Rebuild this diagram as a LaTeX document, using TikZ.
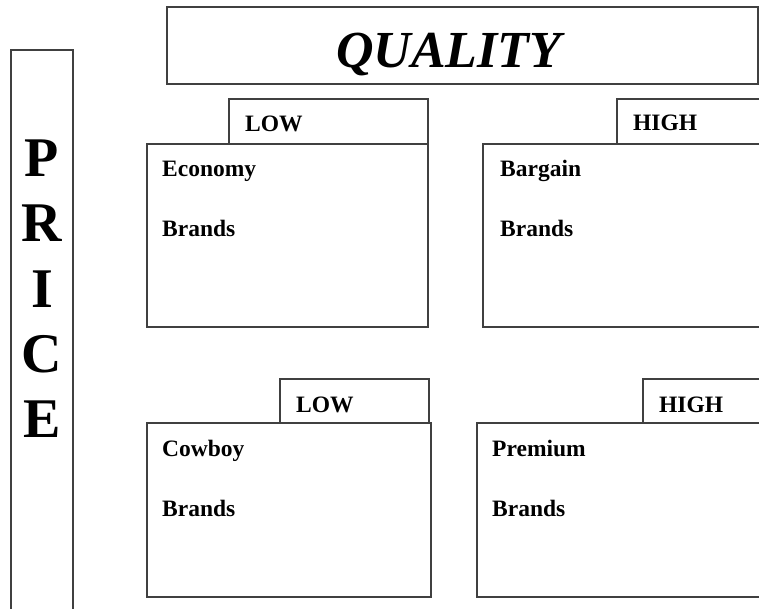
\documentclass[tikz,border=0pt]{standalone}
\usepackage{fontspec}
\setmainfont{Liberation Serif}
\usetikzlibrary{positioning}

\begin{document}
\begin{tikzpicture}[
    x=1pt, y=1pt,
    frame/.style={rectangle, draw=black!75, line width=1.3pt, inner sep=0pt, outer sep=0pt},
    tag/.style={font=\fontsize{23.5}{27}\selectfont\bfseries, inner sep=0pt, anchor=base west},
    brand/.style={font=\fontsize{23.5}{27}\selectfont\bfseries, inner sep=0pt, anchor=base west},
    pricechar/.style={font=\fontsize{56}{65}\selectfont\bfseries, inner sep=0pt, anchor=base}
]
\useasboundingbox (0,0) rectangle (759,-609);
\clip (0,0) rectangle (759,-609);

% axis boxes
\node[frame, anchor=north west, minimum width=62, minimum height=580] (price) at (11,-50) {};
\node[frame, anchor=north west, minimum width=591, minimum height=77] (quality) at (167,-7) {};
\node[font=\fontsize{52}{60}\selectfont\bfseries\itshape, inner sep=0pt, anchor=base west] (qlabel) at (336,-68) {QUALITY};

\foreach \ch [count=\i from 0] in {P,R,I,C,E}
    \node[pricechar] (p\i) at (42,-177-65*\i) {\ch};

% quadrant boxes
\node[frame, anchor=north west, minimum width=281, minimum height=183] (econ) at (147,-144) {};
\node[frame, anchor=north west, minimum width=300, minimum height=183] (barg) at (483,-144) {};
\node[frame, anchor=north west, minimum width=284, minimum height=174] (cowb) at (147,-423) {};
\node[frame, anchor=north west, minimum width=300, minimum height=174] (prem) at (477,-423) {};

% tabs
\node[frame, anchor=south east, minimum width=199, minimum height=45] (econtab) at (econ.north east) {};
\node[frame, anchor=south west, minimum width=160, minimum height=45] (bargtab) at (617,-144) {};
\node[frame, anchor=south east, minimum width=149, minimum height=44] (cowbtab) at ([xshift=-2]cowb.north east) {};
\node[frame, anchor=south west, minimum width=140, minimum height=44] (premtab) at (643,-423) {};

\node[tag] (econlow) at ([shift={(16,12)}]econtab.south west) {LOW};
\node[tag] (barghigh) at ([shift={(16,13)}]bargtab.south west) {HIGH};
\node[tag] (cowblow) at ([shift={(16,11)}]cowbtab.south west) {LOW};
\node[tag] (premhigh) at ([shift={(16,11)}]premtab.south west) {HIGH};

% box texts
\node[brand] (econ1) at ([shift={(15,-33)}]econ.north west) {Economy};
\node[brand] (econ2) at ([yshift=-60]econ1.base west) {Brands};
\node[brand] (barg1) at ([shift={(17,-33)}]barg.north west) {Bargain};
\node[brand] (barg2) at ([yshift=-60]barg1.base west) {Brands};
\node[brand] (cowb1) at ([shift={(15,-33)}]cowb.north west) {Cowboy};
\node[brand] (cowb2) at ([yshift=-60]cowb1.base west) {Brands};
\node[brand] (prem1) at ([shift={(15,-33)}]prem.north west) {Premium};
\node[brand] (prem2) at ([yshift=-60]prem1.base west) {Brands};

\end{tikzpicture}
\end{document}
